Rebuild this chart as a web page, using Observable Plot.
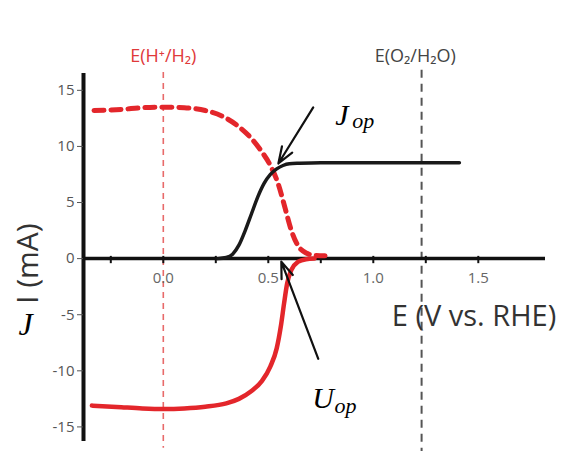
<!DOCTYPE html>
<html><head><meta charset="utf-8">
<script src="https://cdn.jsdelivr.net/npm/d3@7"></script>
<script src="https://cdn.jsdelivr.net/npm/@observablehq/plot@0.6"></script>
<style>html,body{margin:0;padding:0;background:#fff;} #chart svg{display:block}</style>
</head><body><div id="chart"></div>
<script>
// Black solid curve (photoanode)
const anodeE = [0.26, 0.30, 0.33, 0.36, 0.39, 0.42, 0.45, 0.48, 0.51, 0.54, 0.57, 0.60, 0.65, 0.75, 1.0, 1.41];
const anodeI = [0, 0.1, 0.4, 1.2, 2.5, 4.0, 5.5, 6.7, 7.5, 8.0, 8.3, 8.45, 8.5, 8.55, 8.55, 8.55];
// Red dashed curve (mirrored cathode)
const mirrorE = [-0.33, -0.2, -0.1, 0.0, 0.1, 0.2, 0.28, 0.35, 0.42, 0.47, 0.51, 0.55, 0.58, 0.61, 0.64, 0.68, 0.72, 0.77];
const mirrorI = [13.2, 13.3, 13.45, 13.5, 13.45, 13.2, 12.7, 11.9, 10.7, 9.5, 8.3, 6.5, 4.5, 2.5, 1.2, 0.5, 0.3, 0.25];
// Red solid curve (photocathode)
const cathodeE = [-0.34, -0.2, -0.1, 0, 0.1, 0.2, 0.3, 0.36, 0.42, 0.47, 0.51, 0.54, 0.56, 0.575, 0.59, 0.61, 0.64, 0.68, 0.72];
const cathodeI = [-13.1, -13.25, -13.35, -13.4, -13.35, -13.2, -12.9, -12.5, -11.8, -10.9, -9.6, -8.0, -6.0, -4.0, -2.2, -1.0, -0.3, -0.05, 0];

const xMajorTicks = [0, 0.5, 1.0, 1.5];
const xTickLabels = ["0.0", "0.5", "1.0", "1.5"];
const xMinorTicks = [-0.25, 0.25, 0.75, 1.25];
const yTicks = [-15, -10, -5, 0, 5, 10, 15];
const yTickLabels = ["-15", "-10", "-5", "0", "5", "10", "15"];

const refE = [0, 1.23];
const refLabels = ["E(H⁺/H₂)", "E(O₂/H₂O)"];

// annotation arrows (in data units: E, I)
const arrowFrom = [[0.714, 13.48], [0.738, -8.93]];
const arrowTo = [[0.548, 8.48], [0.562, -0.27]];

const rows = (xs, ys) => xs.map((x, i) => ({E: x, I: ys[i]}));
const arrows = arrowFrom.map((f, i) => ({x1: f[0], y1: f[1], x2: arrowTo[i][0], y2: arrowTo[i][1]}));
const xMajor = xMajorTicks.map((v, i) => ({E: v, label: xTickLabels[i]}));
const xAll = xMajorTicks.concat(xMinorTicks);
const serif = "'Liberation Serif', 'DejaVu Serif', serif";

const plot = Plot.plot({
  width: 564, height: 451,
  marginLeft: 83, marginRight: 19, marginTop: 73, marginBottom: 10,
  x: {domain: [-0.38, 1.82], axis: null},
  y: {domain: [-16.3, 16.5], axis: null},
  style: {fontFamily: "'Open Sans', sans-serif", background: "#fff"},
  marks: [
    Plot.ruleX([refE[0]], {y1: 16.6, y2: -16.9, stroke: "#e86a6a", strokeWidth: 1.6, strokeDasharray: "6,5"}),
    Plot.ruleX([refE[1]], {y1: 16.8, y2: -17.5, stroke: "#555", strokeWidth: 2, strokeDasharray: "8,6"}),
    Plot.ruleY([0], {stroke: "#111", strokeWidth: 3.5}),
    Plot.ruleX([-0.38], {stroke: "#111", strokeWidth: 4}),
    Plot.ruleX(xAll, {y1: 0.2, y2: -0.45, stroke: "#111", strokeWidth: 2}),
    Plot.axisY({ticks: yTicks, tickFormat: (d) => yTickLabels[yTicks.indexOf(d)], tickSize: 6, tickPadding: 3, fontSize: 15, color: "#555", label: null}),
    Plot.text(xMajor, {x: "E", y: -2.2, text: "label", lineAnchor: "bottom", fontSize: 15, fill: "#666"}),
    Plot.line(rows(mirrorE, mirrorI), {x: "E", y: "I", stroke: "#e3262b", strokeWidth: 5, strokeDasharray: "10,7", curve: "monotone-x"}),
    Plot.line(rows(cathodeE, cathodeI), {x: "E", y: "I", stroke: "#e3262b", strokeWidth: 4.5, curve: "monotone-x"}),
    Plot.line(rows(anodeE, anodeI), {x: "E", y: "I", stroke: "#1a1a1a", strokeWidth: 3.5, curve: "monotone-x"}),
    Plot.arrow(arrows, {x1: "x1", y1: "y1", x2: "x2", y2: "y2", stroke: "#111", strokeWidth: 2.2, headLength: 12, headAngle: 40, bend: false}),
    Plot.text([refLabels[0]], {x: refE[0], y: 17.5, lineAnchor: "bottom", fontSize: 18, fill: "#e0393a"}),
    Plot.text([refLabels[1]], {x: 1.2, y: 17.5, lineAnchor: "bottom", fontSize: 18, fill: "#444"}),
    Plot.text(["E (V vs. RHE)"], {x: 1.871, y: -6.0, textAnchor: "end", lineAnchor: "bottom", fontSize: 29, fill: "#333"}),
    Plot.text(["I (mA)"], {x: -0.643, y: -0.45, rotate: -90, fontSize: 30, fill: "#333"}),
    Plot.text(["J"], {x: -0.69, y: -6.8, textAnchor: "start", lineAnchor: "bottom", fontSize: 32, fontStyle: "italic", fontFamily: serif, fill: "#000"}),
    Plot.text(["J"], {x: 0.819, y: 11.875, textAnchor: "start", lineAnchor: "bottom", fontSize: 30, fontStyle: "italic", fontFamily: serif, fill: "#000"}),
    Plot.text(["op"], {x: 0.90, y: 11.6, textAnchor: "start", lineAnchor: "bottom", fontSize: 22, fontStyle: "italic", fontFamily: serif, fill: "#000"}),
    Plot.text(["U"], {x: 0.7095, y: -13.3, textAnchor: "start", lineAnchor: "bottom", fontSize: 30, fontStyle: "italic", fontFamily: serif, fill: "#000"}),
    Plot.text(["op"], {x: 0.815, y: -13.75, textAnchor: "start", lineAnchor: "bottom", fontSize: 22, fontStyle: "italic", fontFamily: serif, fill: "#000"})
  ]
});
document.getElementById("chart").appendChild(plot);
</script>
</body></html>
